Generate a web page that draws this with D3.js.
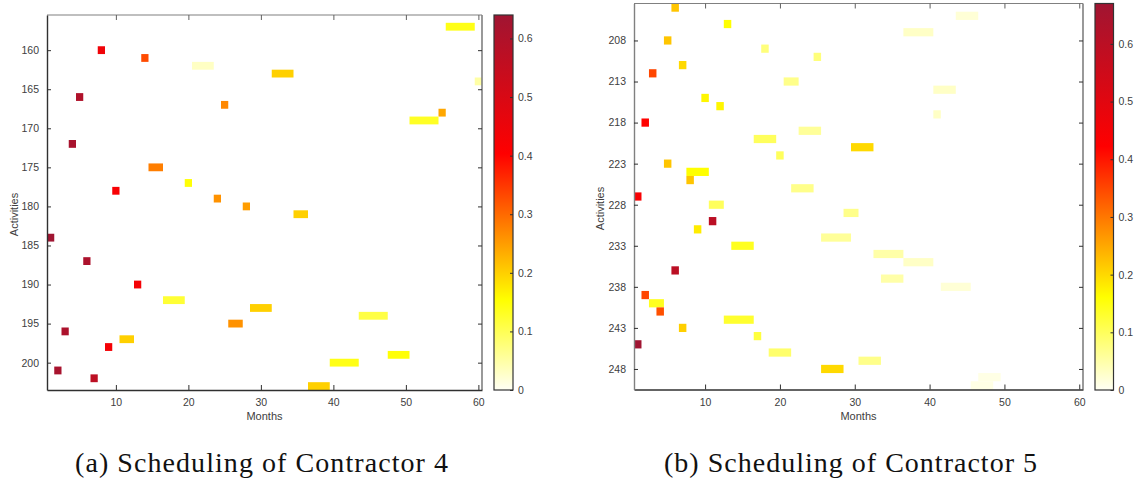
<!DOCTYPE html>
<html>
<head>
<meta charset="utf-8">
<script src="https://cdn.jsdelivr.net/npm/d3@7"></script>
<style>
  html, body { margin: 0; padding: 0; background: #fff; }
  svg { display: block; }
  .cap { font-family: "Liberation Serif", "Times New Roman", Times, serif; }
  .sans { font-family: "Liberation Sans", Arial, Helvetica, sans-serif; }
</style>
</head>
<body>
<svg id="chart" width="1139" height="481"></svg>
<script>
// ---------- Data: Contractor 4 ----------
const c4Activity = [157,160,161,162,163,164,166,167,168,169,172,175,177,178,179,180,181,184,187,190,192,193,194,195,196,197,198,199,200,201,202,203];
const c4Start    = [ 56,  8, 14, 21, 32, 60,  5, 25, 55, 51,  4, 15, 20, 10, 24, 28, 35,  1,  6, 13, 17, 29, 44, 26,  3, 11,  9, 48, 40,  2,  7, 37];
const c4End      = [ 59,  8, 14, 23, 34, 60,  5, 25, 55, 54,  4, 16, 20, 10, 24, 28, 36,  1,  6, 13, 19, 31, 47, 27,  3, 12,  9, 50, 43,  2,  7, 39];
const c4Value    = [0.14,0.44,0.33,0.03,0.20,0.05,0.60,0.27,0.24,0.13,0.62,0.28,0.15,0.42,0.26,0.25,0.20,0.64,0.61,0.43,0.12,0.20,0.11,0.26,0.61,0.20,0.43,0.15,0.14,0.62,0.57,0.20];

// ---------- Data: Contractor 5 ----------
const c5Activity = [204,205,206,207,208,209,210,211,212,213,214,215,216,217,218,219,220,221,222,223,224,225,226,227,228,229,230,231,232,233,234,235,236,237,238,239,240,241,242,243,244,245,246,247,248,249,250];
const c5Start    = [  6, 44, 13, 37,  5, 18, 25,  7,  3, 21, 41, 10, 12, 41,  2, 23, 17, 30, 20,  5,  8,  8, 22,  1, 11, 29, 11,  9, 26, 14, 33, 37,  6, 34, 42,  2,  3,  4, 13,  7, 17,  1, 19, 31, 26, 47, 46];
const c5End      = [  6, 46, 13, 40,  5, 18, 25,  7,  3, 22, 43, 10, 12, 41,  2, 25, 19, 32, 20,  5, 10,  8, 24,  1, 12, 30, 11,  9, 29, 16, 36, 40,  6, 36, 45,  2,  4,  4, 16,  7, 17,  1, 21, 33, 28, 49, 48];
const c5Value    = [0.22,0.02,0.16,0.03,0.22,0.08,0.08,0.20,0.35,0.07,0.03,0.17,0.17,0.03,0.42,0.06,0.10,0.20,0.10,0.22,0.16,0.22,0.07,0.44,0.10,0.07,0.60,0.18,0.06,0.14,0.05,0.03,0.60,0.05,0.02,0.35,0.14,0.34,0.13,0.21,0.12,0.67,0.09,0.07,0.20,0.01,0.01];

// ---------- Axis ticks / labels ----------
const monthTicks = [10, 20, 30, 40, 50, 60];
const c4ActivityTicks = [160, 165, 170, 175, 180, 185, 190, 195, 200];
const c5ActivityTicks = [208, 213, 218, 223, 228, 233, 238, 243, 248];
const colorTicks = [0, 0.1, 0.2, 0.3, 0.4, 0.5, 0.6];
const c4ColorMax = 0.64;
const c5ColorMax = 0.67;
const xLabel = "Months";
const yLabel = "Activities";
const captions = ["(a) Scheduling of Contractor 4", "(b) Scheduling of Contractor 5"];

// colormap stops (fraction of colour range -> colour)
const cmapFrac   = [0, 0.24, 0.63, 1];
const cmapColors = ["#fffff4", "#ffff00", "#ff0000", "#a01532"];

const svg = d3.select("#chart");
const textGray = "#404040";

function drawPanel(cfg) {
  const rows = cfg.activity.map((a, i) => ({
    activity: a, start: cfg.start[i], end: cfg.end[i], value: cfg.value[i]
  }));
  const x = d3.scaleLinear().domain([0.5, 60.5]).range([cfg.x0, cfg.x1]);
  const y = d3.scaleLinear().domain(cfg.yDomain).range([cfg.y0, cfg.y1]);
  const color = d3.scaleLinear()
    .domain(cmapFrac.map(f => f * cfg.cmax))
    .range(cmapColors)
    .interpolate(d3.interpolateRgb)
    .clamp(true);

  const g = svg.append("g");

  // cells
  g.append("g").selectAll("rect").data(rows).join("rect")
    .attr("x", d => x(d.start - 0.5))
    .attr("y", d => y(d.activity - 0.5))
    .attr("width", d => x(d.end + 0.5) - x(d.start - 0.5))
    .attr("height", d => y(d.activity + 0.5) - y(d.activity - 0.5))
    .attr("fill", d => color(d.value));

  // box lines (top/right lighter)
  g.append("line").attr("x1", cfg.x0).attr("x2", cfg.x1).attr("y1", cfg.y0).attr("y2", cfg.y0)
    .attr("stroke", "#808080").attr("stroke-width", 1.2);
  g.append("line").attr("x1", cfg.x1).attr("x2", cfg.x1).attr("y1", cfg.y0).attr("y2", cfg.y1)
    .attr("stroke", "#808080").attr("stroke-width", 1.6);

  // bottom axis
  const xAxis = d3.axisBottom(x).tickValues(monthTicks).tickSizeInner(-5).tickSizeOuter(0).tickPadding(9);
  const gx = g.append("g").attr("transform", `translate(0,${cfg.y1})`).call(xAxis);
  // top axis ticks
  const xTop = d3.axisTop(x).tickValues(monthTicks).tickSizeInner(-5).tickSizeOuter(0).tickFormat("");
  const gxt = g.append("g").attr("transform", `translate(0,${cfg.y0})`).call(xTop);
  gxt.select(".domain").remove();
  gxt.selectAll("line").attr("stroke", "#606060");

  // left axis
  const yAxis = d3.axisLeft(y).tickValues(cfg.yTicks).tickSizeInner(-4).tickSizeOuter(0).tickPadding(8);
  const gy = g.append("g").attr("transform", `translate(${cfg.x0},0)`).call(yAxis);
  // right axis ticks
  const yRight = d3.axisRight(y).tickValues(cfg.yTicks).tickSizeInner(-4).tickSizeOuter(0).tickFormat("");
  const gyr = g.append("g").attr("transform", `translate(${cfg.x1},0)`).call(yRight);
  gyr.select(".domain").remove();
  gyr.selectAll("line").attr("stroke", "#303030");

  [gx, gy].forEach(a => {
    a.attr("font-family", null);
    a.select(".domain").attr("stroke", cfg.leftAxisColor).attr("stroke-width", 1.4);
    a.selectAll("line").attr("stroke", "#303030");
    a.selectAll("text").attr("class", "sans").attr("font-size", 10.5).attr("fill", textGray);
  });
  gx.select(".domain").attr("stroke", "#303030");

  // axis labels
  g.append("text").attr("class", "sans").attr("x", (cfg.x0 + cfg.x1) / 2).attr("y", 420)
    .attr("text-anchor", "middle").attr("font-size", 11)
    .attr("fill", textGray).text(xLabel);
  g.append("text").attr("class", "sans")
    .attr("transform", `translate(${cfg.yLabelX},${(cfg.y0 + cfg.y1) / 2 + 12}) rotate(-90)`)
    .attr("text-anchor", "middle").attr("font-size", 11)
    .attr("fill", textGray).text(yLabel);

  // colorbar
  const gradId = "grad" + cfg.id;
  const grad = svg.append("defs").append("linearGradient").attr("id", gradId)
    .attr("x1", 0).attr("x2", 0).attr("y1", 1).attr("y2", 0);
  grad.selectAll("stop").data(cmapFrac).join("stop")
    .attr("offset", d => d).attr("stop-color", (d, i) => cmapColors[i]);
  const cy = d3.scaleLinear().domain([0, cfg.cmax]).range([cfg.y1c, cfg.y0c]);
  g.append("rect").attr("x", cfg.cbx).attr("y", cfg.y0c).attr("width", cfg.cbw)
    .attr("height", cfg.y1c - cfg.y0c).attr("fill", `url(#${gradId})`)
    .attr("stroke", "#333").attr("stroke-width", 1.2);
  const cAxis = d3.axisRight(cy).tickValues(colorTicks).tickSizeInner(-3).tickSizeOuter(0)
    .tickPadding(5).tickFormat(d => d === 0 ? "0" : d3.format(".1f")(d));
  const gc = g.append("g").attr("transform", `translate(${cfg.cbx + cfg.cbw},0)`).call(cAxis);
  gc.attr("font-family", null);
  gc.select(".domain").remove();
  gc.selectAll("line").attr("stroke", "#303030");
  gc.selectAll("text").attr("class", "sans").attr("font-size", 10.5).attr("fill", textGray);

  // caption
  svg.append("text").attr("class", "cap").attr("x", cfg.capX).attr("y", 472)
    .attr("font-size", 28)
    .attr("textLength", 373).attr("lengthAdjust", "spacing")
    .attr("fill", "#111").text(cfg.caption);
}

drawPanel({
  id: 4, activity: c4Activity, start: c4Start, end: c4End, value: c4Value,
  x0: 47, x1: 482, y0: 15, y1: 390, yDomain: [155.5, 203.5], yTicks: c4ActivityTicks,
  cmax: c4ColorMax, cbx: 494, cbw: 19, y0c: 15, y1c: 390, yLabelX: 18,
  leftAxisColor: "#303030", caption: captions[0], capX: 75
});
drawPanel({
  id: 5, activity: c5Activity, start: c5Start, end: c5End, value: c5Value,
  x0: 634, x1: 1083, y0: 3.5, y1: 389.5, yDomain: [203.5, 250.5], yTicks: c5ActivityTicks,
  cmax: c5ColorMax, cbx: 1095, cbw: 18.5, y0c: 3.5, y1c: 390, yLabelX: 604,
  leftAxisColor: "#808080", caption: captions[1], capX: 664
});
</script>
</body>
</html>
